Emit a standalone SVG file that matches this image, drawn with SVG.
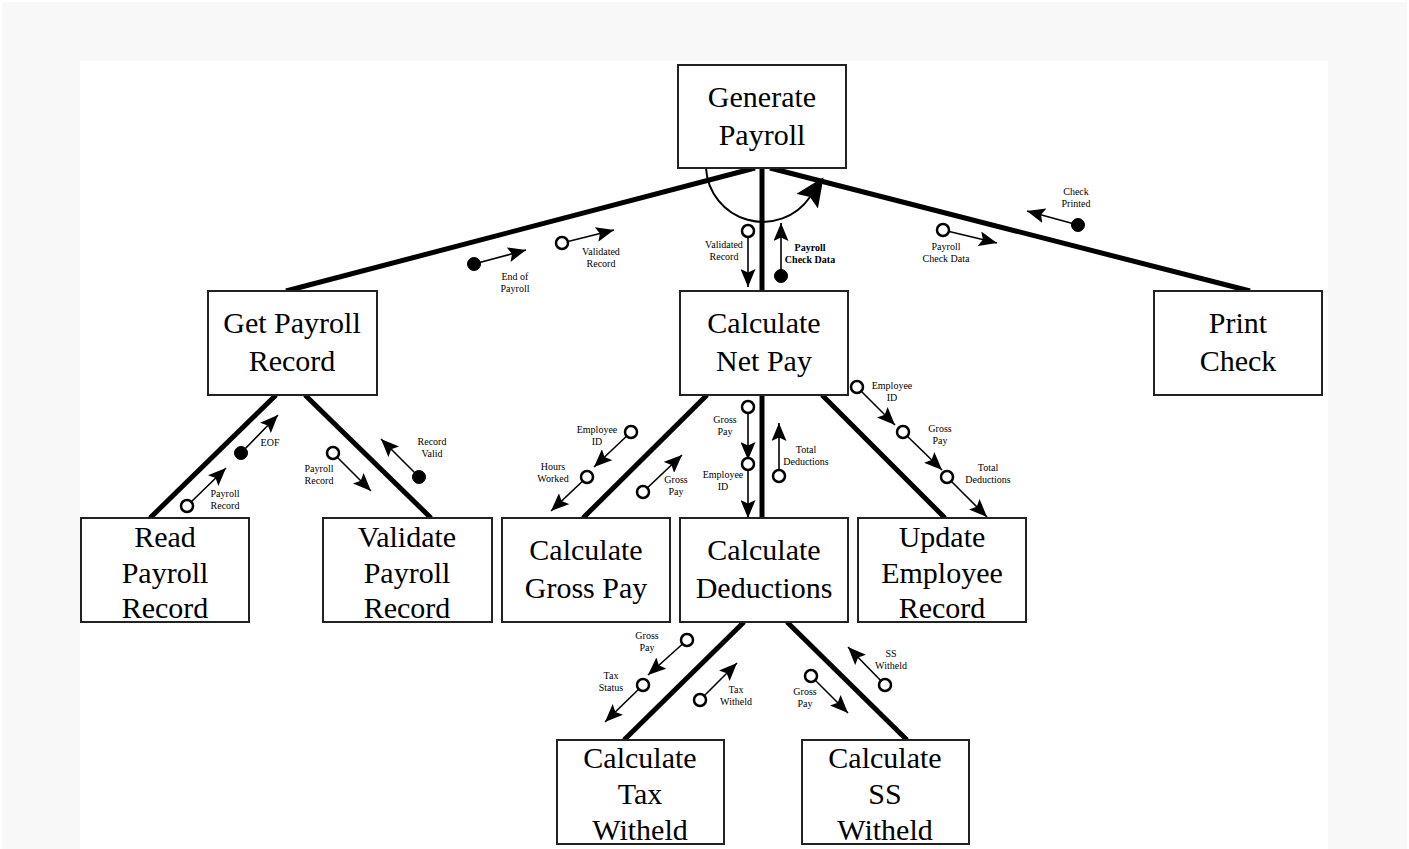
<svg xmlns="http://www.w3.org/2000/svg" width="1409" height="849" viewBox="0 0 1409 849">
<style>
.box{fill:#fff;stroke:#222;stroke-width:2}
.nt{font-family:"Liberation Serif","Times New Roman",serif;font-size:30px;fill:#000;text-anchor:middle}
.lb{font-family:"Liberation Serif","Times New Roman",serif;font-size:10px;fill:#000;text-anchor:middle}
.bd{font-weight:bold}
.th{stroke:#000;stroke-width:5;fill:none}
.cp{stroke:#000;stroke-width:1.6;fill:none;marker-end:url(#ah)}
.o{fill:#fff;stroke:#000;stroke-width:2.5}
.f{fill:#000;stroke:#000;stroke-width:1}
</style>
<defs>
<marker id="ah" markerUnits="userSpaceOnUse" markerWidth="19" markerHeight="15" refX="18" refY="7.5" orient="auto" viewBox="0 0 19 15">
<path d="M0,0 L18,7.5 L0,15 L3.5,7.5 z" fill="#000"/>
</marker>
<marker id="big" markerUnits="userSpaceOnUse" markerWidth="30" markerHeight="26" refX="5" refY="13" orient="auto" viewBox="0 0 30 26">
<path d="M0,0 L29,13 L0,26 L5,13 z" fill="#000"/>
</marker>
</defs>
<rect x="0" y="0" width="1409" height="849" fill="#fff"/>
<rect x="2" y="2" width="1405" height="847" fill="#f8f8f8"/>
<rect x="80" y="61" width="1248" height="788" fill="#fff"/>

<g id="connectors">
<line class="th" x1="755" y1="168" x2="286" y2="291"/>
<line class="th" x1="762" y1="168" x2="762" y2="291"/>
<line class="th" x1="770" y1="168" x2="1250" y2="291"/>
<line class="th" x1="276" y1="395" x2="150" y2="518"/>
<line class="th" x1="305" y1="395" x2="431" y2="518"/>
<line class="th" x1="707" y1="395" x2="583" y2="518"/>
<line class="th" x1="762" y1="395" x2="762" y2="518"/>
<line class="th" x1="822" y1="395" x2="945" y2="518"/>
<line class="th" x1="744" y1="622" x2="624" y2="740"/>
<line class="th" x1="787" y1="622" x2="907" y2="740"/>
<path d="M706,168 A57,57 0 0 0 810,197" stroke="#000" stroke-width="2" fill="none" marker-end="url(#big)"/>
</g>

<g id="couples">
<line class="cp" x1="474" y1="264" x2="526" y2="250"/><circle class="f" cx="474" cy="264" r="6.5"/>
<line class="cp" x1="562" y1="243" x2="614" y2="230"/><circle class="o" cx="562" cy="243" r="6"/>
<line class="cp" x1="748" y1="231" x2="748" y2="287"/><circle class="o" cx="748" cy="231" r="6"/>
<line class="cp" x1="781" y1="276" x2="781" y2="223"/><circle class="f" cx="781" cy="276" r="6.5"/>
<line class="cp" x1="943" y1="230" x2="997" y2="243"/><circle class="o" cx="943" cy="230" r="6"/>
<line class="cp" x1="1078" y1="225" x2="1027" y2="211"/><circle class="f" cx="1078" cy="225" r="6.5"/>
<line class="cp" x1="187" y1="506" x2="226" y2="468"/><circle class="o" cx="187" cy="506" r="6"/>
<line class="cp" x1="241" y1="453" x2="278" y2="415"/><circle class="f" cx="241" cy="453" r="6.5"/>
<line class="cp" x1="333" y1="453" x2="371" y2="491"/><circle class="o" cx="333" cy="453" r="6"/>
<line class="cp" x1="419" y1="477" x2="381" y2="439"/><circle class="f" cx="419" cy="477" r="6.5"/>
<line class="cp" x1="631" y1="432" x2="594" y2="467"/><circle class="o" cx="631" cy="432" r="6"/>
<line class="cp" x1="587" y1="477" x2="551" y2="511"/><circle class="o" cx="587" cy="477" r="6"/>
<line class="cp" x1="643" y1="492" x2="682" y2="455"/><circle class="o" cx="643" cy="492" r="6"/>
<line class="cp" x1="748" y1="407" x2="748" y2="460"/><circle class="o" cx="748" cy="407" r="6"/>
<line class="cp" x1="748" y1="464" x2="748" y2="518"/><circle class="o" cx="748" cy="464" r="6"/>
<line class="cp" x1="779" y1="476" x2="779" y2="423"/><circle class="o" cx="779" cy="476" r="6"/>
<line class="cp" x1="857" y1="387" x2="895" y2="425"/><circle class="o" cx="857" cy="387" r="6"/>
<line class="cp" x1="903" y1="432" x2="942" y2="470"/><circle class="o" cx="903" cy="432" r="6"/>
<line class="cp" x1="947" y1="477" x2="987" y2="517"/><circle class="o" cx="947" cy="477" r="6"/>
<line class="cp" x1="687" y1="640" x2="648" y2="675"/><circle class="o" cx="687" cy="640" r="6"/>
<line class="cp" x1="643" y1="685" x2="605" y2="722"/><circle class="o" cx="643" cy="685" r="6"/>
<line class="cp" x1="700" y1="700" x2="737" y2="663"/><circle class="o" cx="700" cy="700" r="6"/>
<line class="cp" x1="811" y1="676" x2="848" y2="713"/><circle class="o" cx="811" cy="676" r="6"/>
<line class="cp" x1="885" y1="685" x2="848" y2="647"/><circle class="o" cx="885" cy="685" r="6"/>
</g>

<g id="couple-labels">
<text class="lb" x="515" y="279.5">End of<tspan x="515" y="291.5">Payroll</tspan></text>
<text class="lb" x="601" y="255">Validated<tspan x="601" y="267">Record</tspan></text>
<text class="lb" x="724" y="248">Validated<tspan x="724" y="260">Record</tspan></text>
<text class="lb bd" x="810" y="251">Payroll<tspan x="810" y="263">Check Data</tspan></text>
<text class="lb" x="946" y="250">Payroll<tspan x="946" y="262">Check Data</tspan></text>
<text class="lb" x="1076" y="195">Check<tspan x="1076" y="207">Printed</tspan></text>
<text class="lb" x="225" y="497">Payroll<tspan x="225" y="509">Record</tspan></text>
<text class="lb" x="270" y="446">EOF</text>
<text class="lb" x="319" y="472">Payroll<tspan x="319" y="484">Record</tspan></text>
<text class="lb" x="432" y="445">Record<tspan x="432" y="457">Valid</tspan></text>
<text class="lb" x="597" y="433">Employee<tspan x="597" y="445">ID</tspan></text>
<text class="lb" x="553" y="470">Hours<tspan x="553" y="482">Worked</tspan></text>
<text class="lb" x="676" y="483">Gross<tspan x="676" y="495">Pay</tspan></text>
<text class="lb" x="725" y="423">Gross<tspan x="725" y="435">Pay</tspan></text>
<text class="lb" x="723" y="478">Employee<tspan x="723" y="490">ID</tspan></text>
<text class="lb" x="806" y="453">Total<tspan x="806" y="465">Deductions</tspan></text>
<text class="lb" x="892" y="389">Employee<tspan x="892" y="401">ID</tspan></text>
<text class="lb" x="940" y="432">Gross<tspan x="940" y="444">Pay</tspan></text>
<text class="lb" x="988" y="471">Total<tspan x="988" y="483">Deductions</tspan></text>
<text class="lb" x="647" y="639">Gross<tspan x="647" y="651">Pay</tspan></text>
<text class="lb" x="611" y="679">Tax<tspan x="611" y="691">Status</tspan></text>
<text class="lb" x="736" y="693">Tax<tspan x="736" y="705">Witheld</tspan></text>
<text class="lb" x="805" y="695">Gross<tspan x="805" y="707">Pay</tspan></text>
<text class="lb" x="891" y="657">SS<tspan x="891" y="669">Witheld</tspan></text>
</g>

<g id="generate-payroll"><rect class="box" x="678" y="65" width="168" height="103"/><text class="nt" x="762" y="107">Generate<tspan x="762" y="145">Payroll</tspan></text></g>
<g id="get-payroll-record"><rect class="box" x="208" y="291" width="169" height="104"/><text class="nt" x="292" y="333">Get Payroll<tspan x="292" y="371">Record</tspan></text></g>
<g id="calculate-net-pay"><rect class="box" x="680" y="291" width="168" height="104"/><text class="nt" x="764" y="333">Calculate<tspan x="764" y="371">Net Pay</tspan></text></g>
<g id="print-check"><rect class="box" x="1154" y="291" width="168" height="104"/><text class="nt" x="1238" y="333">Print<tspan x="1238" y="371">Check</tspan></text></g>
<g id="read-payroll-record"><rect class="box" x="81" y="518" width="168" height="104"/><text class="nt" x="165" y="547">Read<tspan x="165" y="583">Payroll</tspan><tspan x="165" y="618">Record</tspan></text></g>
<g id="validate-payroll-record"><rect class="box" x="323" y="518" width="169" height="104"/><text class="nt" x="407" y="547">Validate<tspan x="407" y="583">Payroll</tspan><tspan x="407" y="618">Record</tspan></text></g>
<g id="calculate-gross-pay"><rect class="box" x="502" y="518" width="168" height="104"/><text class="nt" x="586" y="560">Calculate<tspan x="586" y="598">Gross Pay</tspan></text></g>
<g id="calculate-deductions"><rect class="box" x="680" y="518" width="168" height="104"/><text class="nt" x="764" y="560">Calculate<tspan x="764" y="598">Deductions</tspan></text></g>
<g id="update-employee-record"><rect class="box" x="858" y="518" width="168" height="104"/><text class="nt" x="942" y="547">Update<tspan x="942" y="583">Employee</tspan><tspan x="942" y="618">Record</tspan></text></g>
<g id="calculate-tax-witheld"><rect class="box" x="557" y="740" width="167" height="104"/><text class="nt" x="640" y="768">Calculate<tspan x="640" y="804">Tax</tspan><tspan x="640" y="840">Witheld</tspan></text></g>
<g id="calculate-ss-witheld"><rect class="box" x="802" y="740" width="167" height="104"/><text class="nt" x="885" y="768">Calculate<tspan x="885" y="804">SS</tspan><tspan x="885" y="840">Witheld</tspan></text></g>
</svg>
